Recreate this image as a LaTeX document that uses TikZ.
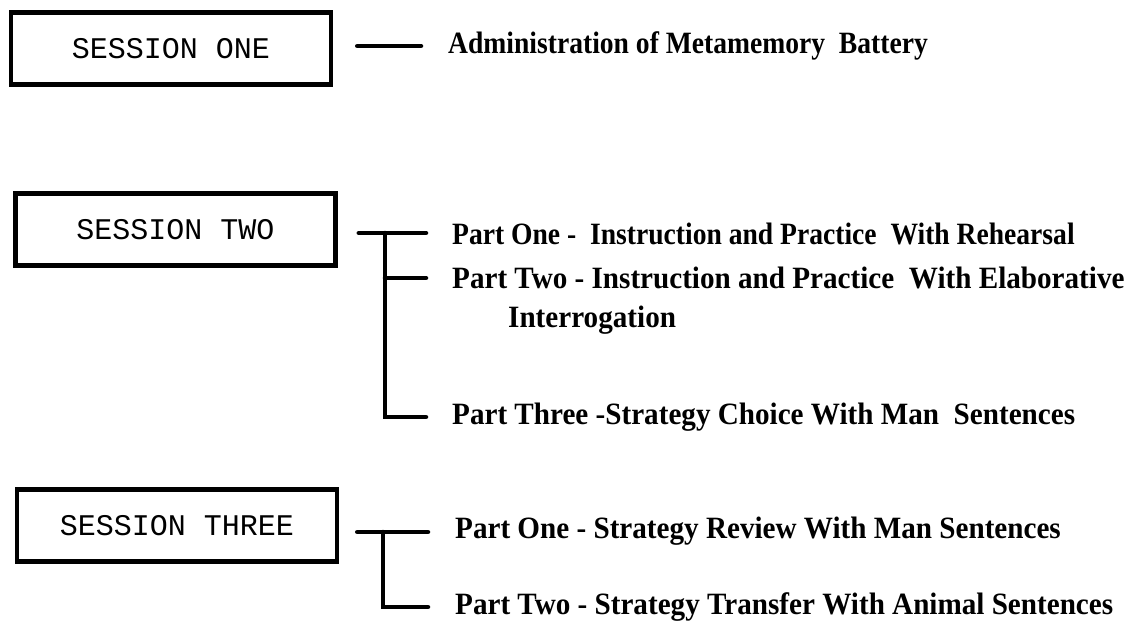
\documentclass[tikz,border=0pt]{standalone}
\usepackage{fontspec}
\setmainfont{Liberation Serif}
\newfontfamily\boxfont{Liberation Mono}
\newfontfamily\partfont[FakeStretch=0.94]{Liberation Serif Bold}
\newfontfamily\partfontn[FakeStretch=0.89]{Liberation Serif Bold}
\begin{document}
\begin{tikzpicture}[x=1pt,y=-1pt,
  sessbox/.style={draw, line width=4.5pt, minimum width=320pt, minimum height=72pt, inner sep=0pt,
    font=\boxfont\fontsize{30}{30}\selectfont},
  parttext/.style={anchor=west, inner sep=0pt, font=\partfont\fontsize{31}{34}\selectfont},
  parttextn/.style={parttext, font=\partfontn\fontsize{31}{34}\selectfont},
  conn/.style={line width=4.5pt, line cap=round}]
\useasboundingbox (0,0) rectangle (1148,626);
\fill[white] (0,0) rectangle (1148,626);

\node[sessbox] (s1) at (171,48.5) {SESSION ONE};
\node[sessbox] (s2) at (175.5,229.5) {SESSION TWO};
\node[sessbox] (s3) at (177,525.5) {SESSION THREE};

\node[parttextn] (t1) at (448,46) {Administration of Metamemory~~Battery};
\node[parttextn] (p21) at (452,234) {Part One -~~Instruction and Practice~~With Rehearsal};
\node[parttext] (p22) at (452,278) {Part Two - Instruction and Practice~~With Elaborative};
\node[parttext] (p22b) at (508,320) {Interrogation};
\node[parttext] (p23) at (452,417) {Part Three -Strategy Choice With Man~~Sentences};
\node[parttext] (p31) at (455,531) {Part One - Strategy Review With Man Sentences};
\node[parttext] (p32) at (455,607) {Part Two - Strategy Transfer With Animal Sentences};

\coordinate (b2) at (385,233);
\coordinate (b3) at (383,532);

\draw[conn] ([xshift=24pt]s1.east |- t1.west) -- ([xshift=-27pt]t1.west);
\draw[conn] ([xshift=21pt]s2.east |- b2) -- ([xshift=-26pt]p21.west |- b2);
\draw[conn] (b2) |- ([xshift=-26pt]p23.west);
\draw[conn] (b2 |- p22.west) -- ([xshift=-26pt]p22.west);
\draw[conn] ([xshift=18pt]s3.east |- b3) -- ([xshift=-27pt]p31.west |- b3);
\draw[conn] (b3) |- ([xshift=-27pt]p32.west);
\end{tikzpicture}
\end{document}
